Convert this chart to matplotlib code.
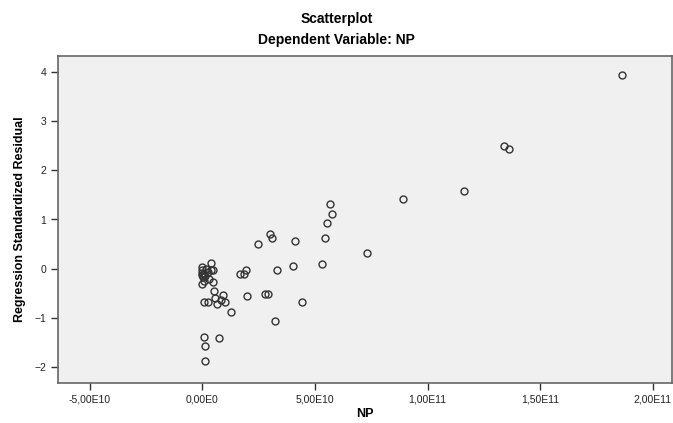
import matplotlib.pyplot as plt
import numpy as np

plt.rcParams['font.family'] = ['Liberation Sans', 'DejaVu Sans']

# NP values (in units of 1E10) and standardized residuals
np_e10 = [18.65, 13.41, 13.60, 11.60, 8.90, 5.65, 5.75, 5.53, 5.44, 7.29,
          5.32, 3.00, 3.10, 2.48, 4.13, 4.04, 3.33, 1.92, 1.67, 1.84,
          0.40, 0.51, 0.93, 0.57, 0.84, 1.00, 0.07, 0.24, 0.63, 1.99,
          2.76, 2.91, 4.44, 1.28, 3.22, 0.07, 0.76, 0.11, 0.10,
          0.00, 0.00, 0.00, 0.00, 0.02, 0.05, 0.00, 0.15, 0.25, 0.40,
          0.45, 0.30, 0.45, 0.12, 0.05]
residual = [3.94, 2.49, 2.43, 1.58, 1.41, 1.32, 1.12, 0.92, 0.63, 0.31,
            0.09, 0.70, 0.63, 0.50, 0.56, 0.05, -0.03, -0.02, -0.12, -0.12,
            0.11, -0.45, -0.53, -0.60, -0.63, -0.68, -0.68, -0.68, -0.73, -0.56,
            -0.51, -0.52, -0.69, -0.88, -1.07, -1.39, -1.42, -1.58, -1.88,
            0.03, -0.03, -0.08, -0.13, -0.18, -0.25, -0.32, 0.00, -0.06, -0.02,
            -0.03, -0.22, -0.28, -0.15, -0.10]

x_ticks = [-5e10, 0, 5e10, 1e11, 1.5e11, 2e11]
x_tick_labels = ['-5,00E10', '0,00E0', '5,00E10', '1,00E11', '1,50E11', '2,00E11']
y_ticks = [-2, -1, 0, 1, 2, 3, 4]

x = np.array(np_e10) * 1e10
y = np.array(residual)

fig = plt.figure(figsize=(6.73, 4.23), dpi=100)
ax = fig.add_axes([58 / 673, 40 / 423, 614 / 673, 327 / 423])
ax.set_facecolor('#f0f0f0')

ax.plot(x, y, linestyle='none', marker='o', markersize=5,
        markerfacecolor='none', markeredgecolor='#333333', markeredgewidth=1.0)

ax.set_xlim(-6.41e10, 2.085e11)
ax.set_ylim(-2.33, 4.33)
ax.set_xticks(x_ticks)
ax.set_xticklabels(x_tick_labels)
ax.set_yticks(y_ticks)
ax.tick_params(direction='out', length=5, width=1, colors='#333333',
               labelsize=7.5, labelcolor='#222222')

for s in ax.spines.values():
    s.set_color('#666666')
    s.set_linewidth(1.2)

ax.set_xlabel('NP', fontsize=9, fontweight='bold', labelpad=2)
ax.set_ylabel('Regression Standardized Residual', fontsize=9, fontweight='bold', labelpad=6)

fig.text(0.5, 1 - 19 / 423, 'Scatterplot', ha='center', va='center',
         fontsize=10, fontweight='bold')
fig.text(0.5, 1 - 40 / 423, 'Dependent Variable: NP', ha='center', va='center',
         fontsize=10, fontweight='bold')

fig.savefig('out.png', dpi=100)
